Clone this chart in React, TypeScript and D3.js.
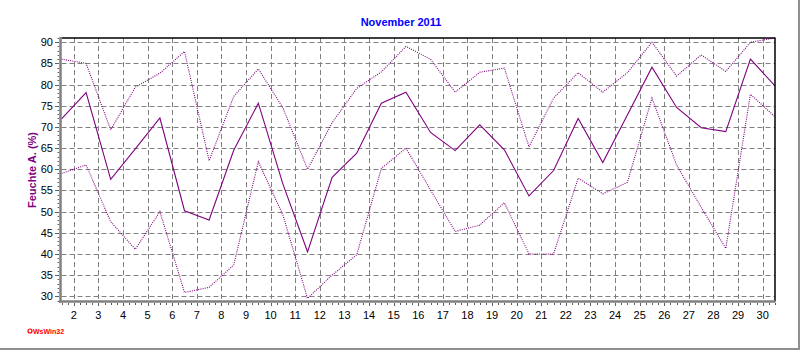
import React from "react";
import * as d3 from "d3";

const days = [1, 2, 3, 4, 5, 6, 7, 8, 9, 10, 11, 12, 13, 14, 15, 16, 17, 18, 19, 20, 21, 22, 23, 24, 25, 26, 27, 28, 29, 30];
const meanHum = [71.9, 78.1, 57.6, 64.8, 72.1, 50.2, 48, 64.5, 75.6, 56.5, 40.5, 58.1, 63.8, 75.6, 78.2, 68.7, 64.4, 70.5, 64.6, 53.7, 59.7, 72, 61.6, 72.8, 84.1, 74.6, 69.8, 68.9, 86, 79.7];
const maxHum = [86, 85, 69.3, 79.4, 82.7, 87.8, 62, 77.2, 83.7, 74.5, 60, 71, 79.1, 83, 89, 86, 78.2, 82.9, 83.9, 65.3, 76.8, 82.8, 78.2, 82.8, 90, 82, 87, 83.1, 90, 91];
const minHum = [59, 61, 47.6, 41.1, 50, 30.9, 32.1, 37.4, 61.8, 49.2, 29.5, 35, 39.8, 60.2, 65, 55.1, 45.3, 46.8, 52.1, 40, 40, 57.9, 54.2, 56.9, 76.8, 61, 51, 41.3, 77.7, 72.4];
const xTickLabels = [2, 3, 4, 5, 6, 7, 8, 9, 10, 11, 12, 13, 14, 15, 16, 17, 18, 19, 20, 21, 22, 23, 24, 25, 26, 27, 28, 29, 30];
const yTickLabels = [30, 35, 40, 45, 50, 55, 60, 65, 70, 75, 80, 85, 90];
const title = "November 2011";
const yLabel = "Feuchte A. (%)";

export default function App() {
  const W = 800, H = 350;
  const left = 61.5, right = 775, top = 38, bottom = 300.5;
  const x = d3.scaleLinear().domain([1.5, 30.5]).range([left, right]);
  const y = d3.scaleLinear().domain([29, 91]).range([bottom, top]);
  const line = d3.line<number>().x((_, i) => x(days[i] + 0.5)).y((v) => y(v));
  const font = "'Liberation Sans', Arial, sans-serif";
  const purple = "#800080";

  const minorX = d3.range(1.5, 30.51, 0.25);
  const minorY = d3.range(29, 91.01, 1);

  return (
    <svg width={W} height={H} style={{ position: "absolute", left: 0, top: 0, background: "#fff" }}>
      <rect x={0} y={0} width={W} height={H} fill="#fff" />
      <line x1={799} y1={0} x2={799} y2={350} stroke="#909090" strokeWidth={2} />
      <line x1={0} y1={349} x2={800} y2={349} stroke="#909090" strokeWidth={2} />

      {xTickLabels.map((d) => (
        <line key={"gx" + d} x1={Math.round(x(d)) + 0.5} x2={Math.round(x(d)) + 0.5} y1={top} y2={bottom}
          stroke="#808080" strokeWidth={1} strokeDasharray="5,3" />
      ))}
      {yTickLabels.map((v) => (
        <line key={"gy" + v} x1={left} x2={right} y1={Math.round(y(v)) + 0.5} y2={Math.round(y(v)) + 0.5}
          stroke="#808080" strokeWidth={1} strokeDasharray="5,3" />
      ))}

      <path d={line(maxHum) || ""} fill="none" stroke={purple} strokeWidth={1.1} strokeDasharray="1,1.2" />
      <path d={line(minHum) || ""} fill="none" stroke={purple} strokeWidth={1.1} strokeDasharray="1,1.2" />
      <path d={line(meanHum) || ""} fill="none" stroke={purple} strokeWidth={1.1} />

      <line x1={left} x2={right + 0.5} y1={top} y2={top} stroke="#000" strokeWidth={1.5} />
      <line x1={right} x2={right} y1={top} y2={bottom + 1} stroke="#000" strokeWidth={1.5} />
      <line x1={60.5} x2={60.5} y1={top - 1} y2={bottom + 2} stroke="#808080" strokeWidth={2.5} />
      <line x1={59} x2={right + 0.5} y1={301.5} y2={301.5} stroke="#808080" strokeWidth={2.5} />

      {minorY.map((v) => (
        <line key={"my" + v} x1={57.5} x2={59} y1={Math.round(y(v)) + 0.5} y2={Math.round(y(v)) + 0.5} stroke="#606060" strokeWidth={1} />
      ))}
      {yTickLabels.map((v) => (
        <line key={"ty" + v} x1={55} x2={59} y1={Math.round(y(v)) + 0.5} y2={Math.round(y(v)) + 0.5} stroke="#606060" strokeWidth={1} />
      ))}
      {yTickLabels.map((v) => (
        <text key={"ly" + v} x={53} y={y(v) + 4} textAnchor="end" fontFamily={font} fontSize={11} fill="#000">{v}</text>
      ))}

      {minorX.map((d) => (
        <line key={"mx" + d} x1={Math.round(x(d)) + 0.5} x2={Math.round(x(d)) + 0.5} y1={303} y2={305} stroke="#606060" strokeWidth={1} />
      ))}
      {xTickLabels.map((d) => (
        <line key={"tx" + d} x1={Math.round(x(d)) + 0.5} x2={Math.round(x(d)) + 0.5} y1={303} y2={306} stroke="#606060" strokeWidth={1} />
      ))}
      {xTickLabels.map((d) => (
        <text key={"lx" + d} x={x(d)} y={319} textAnchor="middle" fontFamily={font} fontSize={11} fill="#000">{d}</text>
      ))}

      <text x={401} y={26} textAnchor="middle" fontFamily={font} fontSize={11} fontWeight="bold" fill="#0000ff">{title}</text>

      <text transform="translate(36,170) rotate(-90)" textAnchor="middle" fontFamily={font} fontSize={11} fontWeight="bold" fill={purple}>{yLabel}</text>

      <circle cx={30} cy={331} r={2} fill="none" stroke="#ff0000" strokeWidth={1.2} />
      <text x={33} y={334} fontFamily={font} fontSize={7} fontWeight="bold" fill="#ff0000">WsWin32</text>
    </svg>
  );
}
